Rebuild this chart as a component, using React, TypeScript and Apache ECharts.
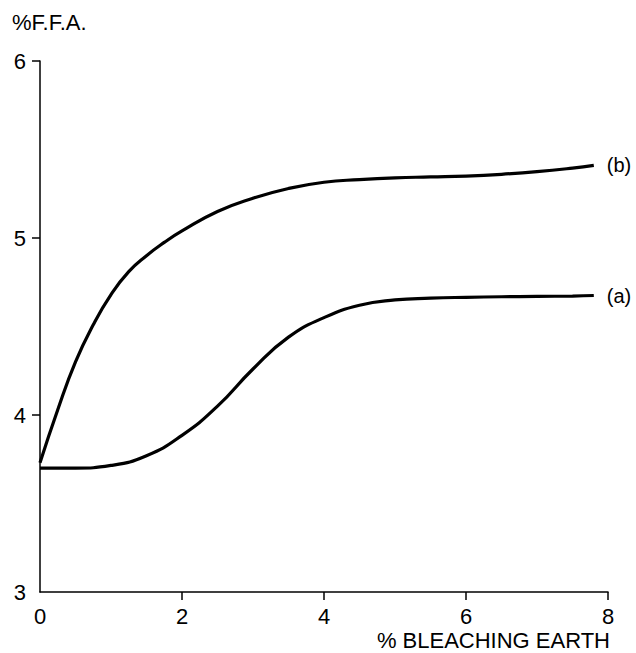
import React, { useEffect, useRef } from "react";
import * as echarts from "echarts";

const xTicks = [0, 2, 4, 6, 8];
const yTicks = [3, 4, 5, 6];

const seriesAX = [0, 0.5, 1.0, 1.5, 2.0, 2.5, 3.0, 3.5, 4.0, 4.5, 5.0, 5.5, 6.0, 6.5, 7.0, 7.5, 7.8];
const seriesAY = [3.7, 3.7, 3.715, 3.77, 3.885, 4.05, 4.26, 4.44, 4.55, 4.62, 4.65, 4.66, 4.665, 4.668, 4.67, 4.672, 4.675];

const seriesBX = [0, 0.25, 0.5, 0.75, 1.0, 1.25, 1.5, 1.75, 2.0, 2.5, 3.0, 3.5, 4.0, 4.5, 5.0, 5.5, 6.0, 6.5, 7.0, 7.5, 7.8];
const seriesBY = [3.73, 4.03, 4.3, 4.51, 4.68, 4.81, 4.9, 4.975, 5.04, 5.15, 5.225, 5.28, 5.315, 5.33, 5.34, 5.345, 5.35, 5.36, 5.375, 5.395, 5.41];

const labelA = "(a)";
const labelB = "(b)";
const yAxisTitle = "%F.F.A.";
const xAxisTitle = "% BLEACHING EARTH";

const FONT = "'Liberation Sans', Arial, Helvetica, sans-serif";

export default function App() {
  const ref = useRef<HTMLDivElement>(null);
  useEffect(() => {
    if (!ref.current) return;
    const chart = echarts.init(ref.current, undefined, { renderer: "svg" });
    const mk = (xs: number[], ys: number[]) => xs.map((x, i) => [x, ys[i]]);
    const lineSeries = (name: string, data: number[][]) => ({
      type: "line",
      name,
      data,
      smooth: 0.5,
      showSymbol: false,
      symbol: "none",
      lineStyle: { color: "#000", width: 3.2 },
      endLabel: {
        show: true,
        formatter: name,
        distance: 13,
        color: "#000",
        fontSize: 20,
        fontFamily: FONT,
      },
    });
    chart.setOption({
      animation: false,
      backgroundColor: "#fff",
      grid: { left: 40, right: 28, top: 61, bottom: 61, containLabel: false },
      xAxis: {
        type: "value",
        min: xTicks[0],
        max: xTicks[xTicks.length - 1],
        interval: 2,
        axisLine: { show: true, onZero: false, lineStyle: { color: "#000", width: 1.5 } },
        axisTick: {
          show: true,
          length: 8,
          inside: false,
          customValues: xTicks.slice(1),
          lineStyle: { color: "#000", width: 1.5 },
        },
        axisLabel: { color: "#000", fontSize: 22, lineHeight: 22, fontFamily: FONT, margin: 13 },
        splitLine: { show: false },
      },
      yAxis: {
        type: "value",
        min: yTicks[0],
        max: yTicks[yTicks.length - 1],
        interval: 1,
        axisLine: { show: true, onZero: false, lineStyle: { color: "#000", width: 1.5 } },
        axisTick: {
          show: true,
          length: 8,
          inside: false,
          customValues: yTicks.slice(1),
          lineStyle: { color: "#000", width: 1.5 },
        },
        axisLabel: { color: "#000", fontSize: 22, fontFamily: FONT, margin: 14 },
        splitLine: { show: false },
      },
      graphic: [
        {
          type: "text",
          left: 12,
          top: 11,
          style: { text: yAxisTitle, fill: "#000", fontSize: 22, fontFamily: FONT },
        },
        {
          type: "text",
          right: 26,
          top: 629,
          style: { text: xAxisTitle, fill: "#000", fontSize: 22, lineHeight: 22, fontFamily: FONT },
        },
      ],
      series: [lineSeries(labelA, mk(seriesAX, seriesAY)), lineSeries(labelB, mk(seriesBX, seriesBY))],
    });
    return () => chart.dispose();
  }, []);
  return <div ref={ref} style={{ width: 636, height: 653, position: "absolute", left: 0, top: 0 }} />;
}
